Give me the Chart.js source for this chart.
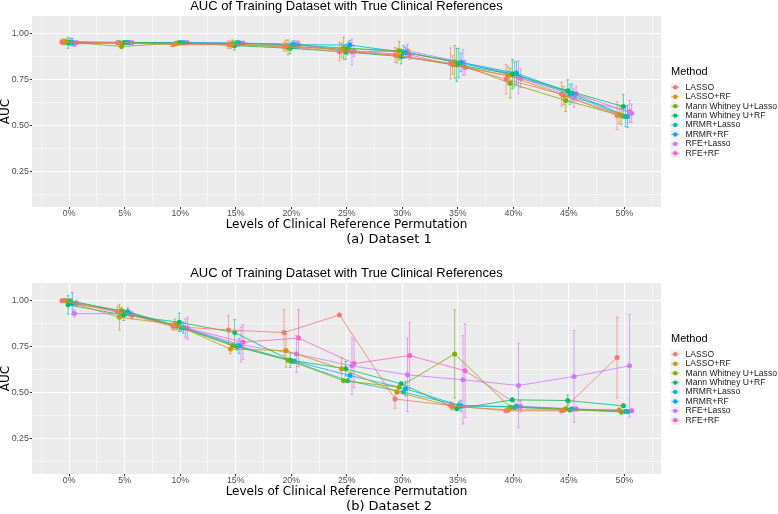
<!DOCTYPE html>
<html><head><meta charset="utf-8">
<script src="https://cdn.jsdelivr.net/npm/chart.js@4.4.1/dist/chart.umd.min.js"></script>
<style>
html,body{margin:0;padding:0;background:#fff;overflow:hidden;width:778px;height:514px;}
canvas{position:absolute;left:0;}
#c1{top:0}
#c2{top:267px}
</style></head><body>
<canvas id="c1" width="778" height="250"></canvas>
<canvas id="c2" width="778" height="250"></canvas>
<script>
// ---------- data ----------
const categories = ['0%','5%','10%','15%','20%','25%','30%','35%','40%','45%','50%'];
const methods = ['LASSO','LASSO+RF','Mann Whitney U+Lasso','Mann Whitney U+RF','MRMR+Lasso','MRMR+RF','RFE+Lasso','RFE+RF'];
const colors = ['#F8766D','#CD9600','#7CAE00','#00BE67','#00BFC4','#00A9FF','#C77CFF','#FF61CC'];
const yTickValues = [0.25, 0.50, 0.75, 1.00];
const yTickLabels = ['0.25','0.50','0.75','1.00'];

// Dataset 1 means and sd
const d1LASSO       = [0.955,0.950,0.940,0.940,0.930,0.902,0.884,0.837,0.752,0.670,0.554];
const d1LASSOsd     = [0.015,0.010,0.010,0.020,0.025,0.050,0.040,0.085,0.080,0.065,0.075];
const d1LASSORF     = [0.955,0.950,0.945,0.940,0.935,0.910,0.880,0.830,0.772,0.663,0.560];
const d1LASSORFsd   = [0.015,0.010,0.010,0.020,0.030,0.040,0.040,0.050,0.050,0.050,0.050];
const d1MWLasso     = [0.955,0.930,0.948,0.945,0.925,0.920,0.907,0.845,0.730,0.636,0.554];
const d1MWLassosd   = [0.015,0.010,0.010,0.020,0.040,0.060,0.050,0.090,0.080,0.060,0.050];
const d1MWRF        = [0.950,0.950,0.950,0.935,0.920,0.900,0.875,0.830,0.780,0.689,0.603];
const d1MWRFsd      = [0.030,0.010,0.010,0.025,0.030,0.040,0.040,0.090,0.080,0.060,0.065];
const d1MRMRLasso   = [0.955,0.952,0.950,0.947,0.940,0.920,0.900,0.840,0.780,0.670,0.549];
const d1MRMRLassosd = [0.020,0.010,0.010,0.015,0.020,0.035,0.035,0.080,0.070,0.055,0.055];
const d1MRMRRF      = [0.953,0.952,0.950,0.948,0.940,0.938,0.897,0.843,0.785,0.675,0.549];
const d1MRMRRFsd    = [0.020,0.010,0.010,0.015,0.020,0.025,0.030,0.050,0.060,0.050,0.060];
const d1RFELasso    = [0.945,0.950,0.950,0.948,0.940,0.900,0.907,0.843,0.763,0.649,0.576];
const d1RFELassosd  = [0.015,0.010,0.010,0.010,0.020,0.070,0.035,0.070,0.090,0.050,0.060];
const d1RFERF       = [0.950,0.950,0.950,0.948,0.940,0.905,0.884,0.815,0.757,0.672,0.567];
const d1RFERFsd     = [0.010,0.010,0.010,0.010,0.020,0.030,0.025,0.040,0.050,0.040,0.050];

// Dataset 2 means and sd
const d2LASSO       = [1.000,0.940,0.859,0.840,0.826,0.922,0.464,0.429,0.400,0.400,0.690];
const d2LASSOsd     = [0.005,0.030,0.020,0.080,0.125,0.005,0.050,0.020,0.010,0.010,0.220];
const d2LASSORF     = [1.000,0.910,0.870,0.736,0.728,0.629,0.502,0.424,0.405,0.405,0.405];
const d2LASSORFsd   = [0.010,0.070,0.030,0.025,0.090,0.060,0.010,0.020,0.010,0.010,0.010];
const d2MWLasso     = [1.000,0.945,0.860,0.755,0.676,0.564,0.529,0.710,0.420,0.410,0.393];
const d2MWLassosd   = [0.005,0.020,0.020,0.010,0.010,0.010,0.010,0.240,0.010,0.010,0.010];
const d2MWRF        = [0.977,0.922,0.882,0.826,0.676,0.629,0.547,0.411,0.460,0.456,0.427];
const d2MWRFsd      = [0.050,0.030,0.050,0.070,0.040,0.040,0.010,0.010,0.010,0.030,0.010];
const d2MRMRLasso   = [1.000,0.935,0.853,0.750,0.670,0.564,0.502,0.430,0.420,0.405,0.396];
const d2MRMRLassosd = [0.005,0.010,0.020,0.020,0.010,0.010,0.010,0.020,0.010,0.010,0.010];
const d2MRMRRF      = [0.985,0.940,0.853,0.753,0.670,0.592,0.520,0.427,0.423,0.410,0.396];
const d2MRMRRFsd    = [0.060,0.020,0.030,0.040,0.010,0.010,0.040,0.030,0.010,0.010,0.010];
const d2RFELasso    = [0.930,0.928,0.850,0.760,0.709,0.645,0.596,0.569,0.538,0.587,0.645];
const d2RFELassosd  = [0.020,0.010,0.050,0.095,0.100,0.155,0.200,0.240,0.230,0.250,0.280];
const d2RFERF       = [0.985,0.920,0.850,0.774,0.796,0.657,0.701,0.618,0.424,0.410,0.400];
const d2RFERFsd     = [0.015,0.020,0.060,0.095,0.155,0.130,0.180,0.255,0.030,0.010,0.010];

const panel1 = {
  title: 'AUC of Training Dataset with True Clinical References',
  caption: '(a) Dataset 1',
  means: [d1LASSO,d1LASSORF,d1MWLasso,d1MWRF,d1MRMRLasso,d1MRMRRF,d1RFELasso,d1RFERF],
  sds:   [d1LASSOsd,d1LASSORFsd,d1MWLassosd,d1MWRFsd,d1MRMRLassosd,d1MRMRRFsd,d1RFELassosd,d1RFERFsd]
};
const panel2 = {
  title: 'AUC of Training Dataset with True Clinical References',
  caption: '(b) Dataset 2',
  means: [d2LASSO,d2LASSORF,d2MWLasso,d2MWRF,d2MRMRLasso,d2MRMRRF,d2RFELasso,d2RFERF],
  sds:   [d2LASSOsd,d2LASSORFsd,d2MWLassosd,d2MWRFsd,d2MRMRLassosd,d2MRMRRFsd,d2RFELassosd,d2RFERFsd]
};

// ---------- helpers ----------
const SANS = '"Liberation Sans", Arial, Helvetica, sans-serif';
const DEJA = '"DejaVu Sans", sans-serif';
const dodgeWidth = 0.3;
function hexA(hex, a){
  const n = parseInt(hex.slice(1),16);
  return `rgba(${(n>>16)&255},${(n>>8)&255},${n&255},${a})`;
}
const xMajor = categories.map((c,i)=>i);
const xGrid = [-0.5].concat(...xMajor.map(v=>[v, v+0.5]));
const yGrid = [0.125,0.25,0.375,0.5,0.625,0.75,0.875,1.0];

const panelBg = {
  id:'panelBg',
  beforeDraw(chart){
    const {ctx, chartArea:a} = chart;
    ctx.save(); ctx.fillStyle='#EBEBEB';
    ctx.fillRect(a.left, a.top, a.right-a.left, a.bottom-a.top);
    ctx.restore();
  }
};

const errorBars = {
  id:'errorBars',
  beforeDatasetsDraw(chart){
    const {ctx, chartArea:a} = chart;
    const xs = chart.scales.x, ys = chart.scales.y;
    ctx.save();
    ctx.beginPath(); ctx.rect(a.left, a.top, a.right-a.left, a.bottom-a.top); ctx.clip();
    chart.data.datasets.forEach(ds=>{
      ctx.strokeStyle = hexA(ds.borderColor, 0.8);
      ctx.lineWidth = 0.8;
      ds.data.forEach((p,i)=>{
        const x = xs.getPixelForValue(p.x);
        const y1 = ys.getPixelForValue(p.y - ds.sd[i]);
        const y2 = ys.getPixelForValue(p.y + ds.sd[i]);
        ctx.beginPath();
        ctx.moveTo(x, y1); ctx.lineTo(x, y2);
        ctx.moveTo(x-1.3, y1); ctx.lineTo(x+1.3, y1);
        ctx.moveTo(x-1.3, y2); ctx.lineTo(x+1.3, y2);
        ctx.stroke();
      });
    });
    ctx.restore();
  }
};

const customLegend = {
  id:'customLegend',
  afterDraw(chart){
    const {ctx, chartArea:a} = chart;
    const x0 = a.right + 9.5;
    ctx.save();
    ctx.textBaseline='middle'; ctx.textAlign='left';
    ctx.fillStyle='#000';
    ctx.font = '11px ' + SANS;
    ctx.fillText('Method', x0 + 0.5, a.top + 55.7);
    chart.data.datasets.forEach((ds,i)=>{
      const cy = a.top + 71.3 + i*9.43;
      ctx.fillStyle='#F2F2F2';
      ctx.fillRect(x0, cy-4.7, 9.4, 9.4);
      ctx.strokeStyle = ds.borderColor; ctx.lineWidth = 0.7;
      ctx.beginPath(); ctx.moveTo(x0+0.8, cy); ctx.lineTo(x0+8.6, cy); ctx.stroke();
      ctx.fillStyle = ds.borderColor;
      ctx.beginPath(); ctx.arc(x0+4.7, cy, 2.2, 0, Math.PI*2); ctx.fill();
      ctx.fillStyle = '#1A1A1A';
      ctx.font = '8.6px ' + SANS;
      ctx.fillText(ds.label, x0 + 15, cy);
    });
    ctx.restore();
  }
};

function isMajorX(v){ return Math.abs(v - Math.round(v)) < 1e-9; }
function isMajorY(v){ return yTickValues.some(t=>Math.abs(t-v)<1e-9); }

function makeChart(id, panel){
  const datasets = methods.map((m,s)=>({
    label: m,
    data: panel.means[s].map((v,i)=>({x: i + (s - 3.5)*dodgeWidth/8, y: v})),
    sd: panel.sds[s],
    borderColor: colors[s],
    backgroundColor: colors[s],
    pointBackgroundColor: colors[s],
    pointBorderWidth: 0,
    pointRadius: 2.5,
    borderWidth: 0.8,
    tension: 0,
    fill: false,
    xAxisID:'x', yAxisID:'y'
  }));
  return new Chart(document.getElementById(id), {
    type:'line',
    data:{ datasets },
    plugins:[panelBg, errorBars, customLegend],
    options:{
      responsive:false, animation:false, devicePixelRatio:1, events:[],
      layout:{ padding:{ top:0, left:0, right:0, bottom:3.5 } },
      plugins:{
        legend:{ display:false },
        tooltip:{ enabled:false },
        title:{ display:true, text:panel.title, fullSize:false, color:'#000',
          font:{ family:SANS, size:13, weight:'normal', lineHeight:1 }, padding:{ top:0, bottom:3 } },
        subtitle:{ display:true, position:'bottom', text:panel.caption, color:'#000',
          font:{ family:DEJA, size:13, weight:'normal', lineHeight:1 }, padding:0 }
      },
      scales:{
        x:{
          type:'linear', min:-0.67, max:10.66, position:'bottom',
          afterBuildTicks(s){ s.ticks = xGrid.map(v=>({value:v})); },
          afterFit(s){ s.height = 26.5; },
          border:{ display:false },
          grid:{
            color:'#FFFFFF',
            lineWidth: c => (c.tick && isMajorX(c.tick.value)) ? 1.07 : 0.53,
            tickLength:2.2,
            tickColor: c => (c.tick && isMajorX(c.tick.value)) ? '#333333' : 'rgba(0,0,0,0)',
            tickWidth: c => (c.tick && isMajorX(c.tick.value)) ? 1 : 0.01
          },
          ticks:{
            autoSkip:false, maxRotation:0, minRotation:0, padding:0, color:'#4D4D4D',
            font:{ family:SANS, size:8.8, lineHeight:1.1 },
            callback: v => isMajorX(v) ? categories[Math.round(v)] : ''
          },
          title:{ display:true, text:'Levels of Clinical Reference Permutation', color:'#000',
            font:{ family:DEJA, size:12, lineHeight:1 }, padding:{ top:0, bottom:2.5 } }
        },
        y:{
          type:'linear', min:0.056, max:1.096, position:'left',
          afterBuildTicks(s){ s.ticks = yGrid.map(v=>({value:v})); },
          afterFit(s){ s.width = 32; },
          border:{ display:false },
          grid:{
            color:'#FFFFFF',
            lineWidth: c => (c.tick && isMajorY(c.tick.value)) ? 1.07 : 0.53,
            tickLength:2.2,
            tickColor: c => (c.tick && isMajorY(c.tick.value)) ? '#333333' : 'rgba(0,0,0,0)',
            tickWidth: c => (c.tick && isMajorY(c.tick.value)) ? 1 : 0.01
          },
          ticks:{
            autoSkip:false, padding:1, color:'#4D4D4D',
            font:{ family:SANS, size:8.8, lineHeight:1.1 },
            callback: v => { const k = yTickValues.findIndex(t=>Math.abs(t-v)<1e-9); return k>=0 ? yTickLabels[k] : ''; }
          },
          title:{ display:true, text:'AUC', color:'#000',
            font:{ family:DEJA, size:12, lineHeight:1 }, padding:{ top:0, bottom:0 } }
        },
        yr:{
          type:'linear', position:'right', display:true,
          afterFit(s){ s.width = 117; },
          border:{ display:false },
          grid:{ display:false, drawTicks:false },
          ticks:{ display:false }
        }
      }
    }
  });
}
makeChart('c1', panel1);
makeChart('c2', panel2);
</script>
</body></html>
